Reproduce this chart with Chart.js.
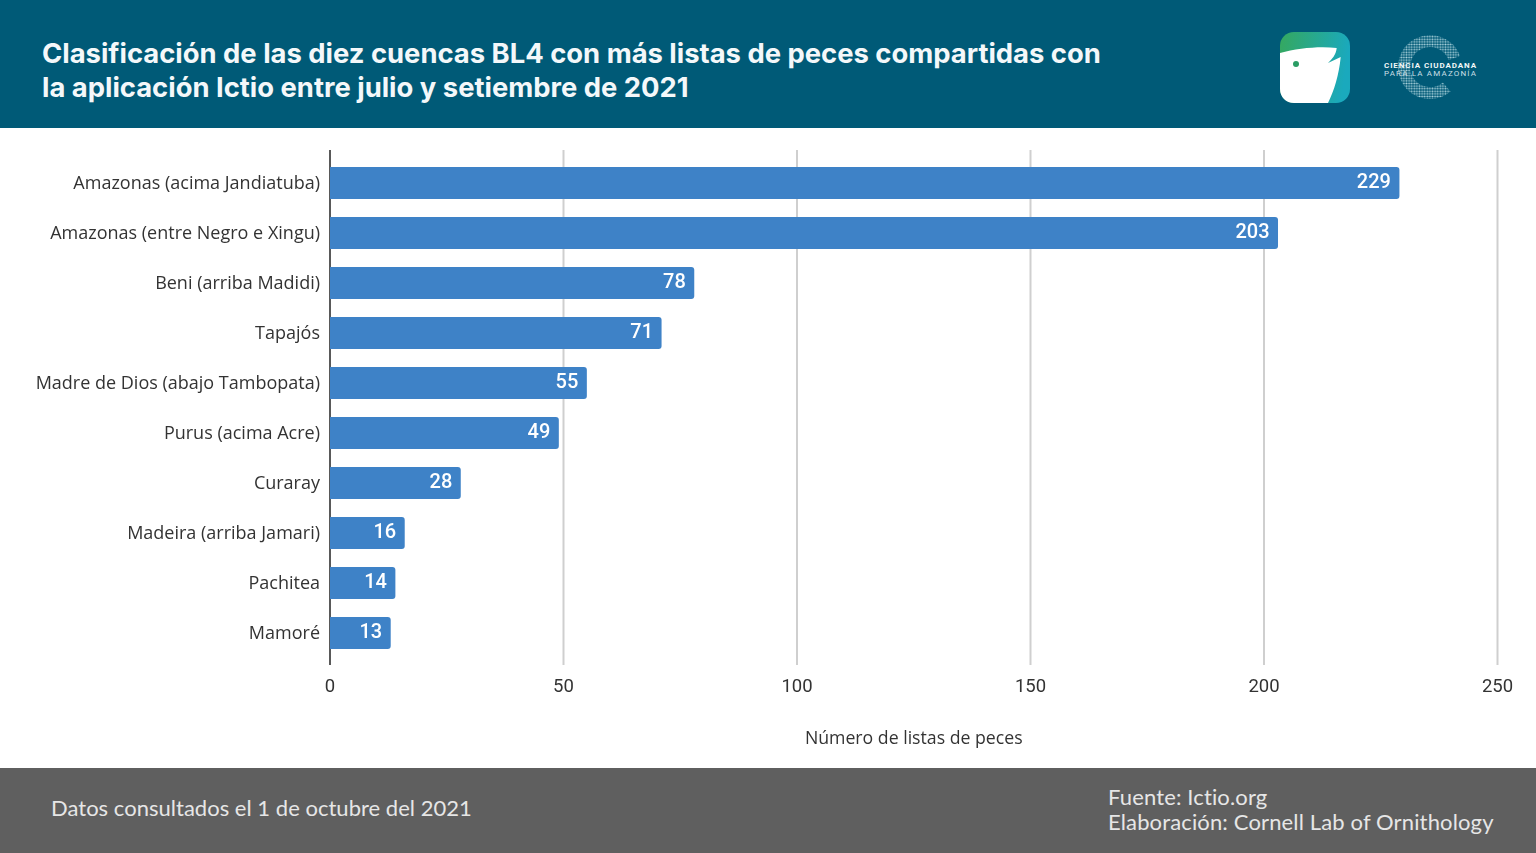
<!DOCTYPE html>
<html lang="es">
<head>
<meta charset="utf-8">
<title>Ictio BL4</title>
<script src="https://cdn.jsdelivr.net/npm/chart.js@4"></script>
<style>
  html, body { margin: 0; padding: 0; background: #fff; }
  body { width: 1536px; height: 853px; position: relative; overflow: hidden; }
  #cabecera { position: absolute; left: 0; top: 0; width: 1536px; height: 128px; background: #005a77; }
  #titulo { position: absolute; left: 42px; top: 36px; margin: 0; color: #f4f8fa; font: 700 27.4px/34px Inter, sans-serif; white-space: nowrap; }
  #logos { position: absolute; left: 1270px; top: 25px; }
  #contenedor { position: absolute; left: 0; top: 128px; width: 1536px; height: 640px; }
  #pie { position: absolute; left: 0; top: 768px; width: 1536px; height: 85px; background: #5f5f5f; color: #e6e6e6; font: 400 22px/25px Lato, sans-serif; }
  #consulta { position: absolute; left: 51px; top: 27px; letter-spacing: 0.02px; }
  #fuente { position: absolute; left: 1108px; top: 16px; white-space: nowrap; letter-spacing: 0.14px; }
</style>
</head>
<body>
<div id="cabecera">
  <h1 id="titulo">Clasificación de las diez cuencas BL4 con más listas de peces compartidas con<br>la aplicación Ictio entre julio y setiembre de 2021</h1>
  <svg id="logos" width="220" height="85" viewBox="0 0 220 85">
    <defs>
      <linearGradient id="gradLogo" x1="0" x2="1" y1="0" y2="0.15">
        <stop offset="0" stop-color="#35a85f"/><stop offset="1" stop-color="#1aa9bd"/>
      </linearGradient>
      <pattern id="puntos" width="2.6" height="2.6" patternUnits="userSpaceOnUse">
        <circle cx="1.3" cy="1.3" r="0.95" fill="#a8d0da"/>
      </pattern>
    </defs>
    <rect x="10" y="7" width="70" height="71" rx="14" fill="url(#gradLogo)"/>
    <path d="M10 28 C28 23 50 21 66.7 23 C66 30 62 34 58 38 L70.7 32 C69 50 64 66 58 78 L24 78 C16 78 10 72 10 64 Z" fill="#fff"/>
    <circle cx="26" cy="39" r="3" fill="#2a9d64"/>
    <path d="M184.4 33 A26 26 0 1 0 176.7 62" fill="none" stroke="url(#puntos)" stroke-width="12"/>
    <text x="160" y="43" text-anchor="middle" fill="#f2f7f8" font-family="Roboto, sans-serif" font-weight="700" font-size="8" textLength="92">CIENCIA CIUDADANA</text>
    <text x="160" y="51" text-anchor="middle" fill="#c9dfe5" font-family="Roboto, sans-serif" font-size="8" textLength="92">PARA LA AMAZONÍA</text>
  </svg>
</div>
<div id="contenedor"><canvas id="grafico"></canvas></div>
<div id="pie">
  <div id="consulta">Datos consultados el 1 de octubre del 2021</div>
  <div id="fuente">Fuente: Ictio.org<br>Elaboración: Cornell Lab of Ornithology</div>
</div>
<script>
const cuencas = [
  'Amazonas (acima Jandiatuba)',
  'Amazonas (entre Negro e Xingu)',
  'Beni (arriba Madidi)',
  'Tapajós',
  'Madre de Dios (abajo Tambopata)',
  'Purus (acima Acre)',
  'Curaray',
  'Madeira (arriba Jamari)',
  'Pachitea',
  'Mamoré'
];
const listas = [229, 203, 78, 71, 55, 49, 28, 16, 14, 13];

// las lineas pasan 8px por arriba y por abajo del area de barras
const lineasEje = {
  id: 'lineasEje',
  beforeDatasetsDraw(chart) {
    const { ctx, chartArea, scales } = chart;
    ctx.save();
    scales.x.ticks.forEach(t => {
      const x = scales.x.getPixelForValue(t.value);
      ctx.beginPath();
      ctx.moveTo(x, chartArea.top - 8);
      ctx.lineTo(x, chartArea.bottom + 7);
      ctx.lineWidth = t.value === 0 ? 1.5 : 2;
      ctx.strokeStyle = t.value === 0 ? '#222222' : '#cfcfcf';
      ctx.stroke();
    });
    ctx.restore();
  }
};

// etiquetas blancas dentro de cada barra
const etiquetas = {
  id: 'etiquetas',
  afterDatasetsDraw(chart) {
    const { ctx } = chart;
    ctx.save();
    ctx.fillStyle = '#ffffff';
    ctx.font = '500 20px Roboto, sans-serif';
    ctx.textAlign = 'right';
    ctx.textBaseline = 'middle';
    chart.getDatasetMeta(0).data.forEach((barra, i) => {
      ctx.fillText(listas[i], barra.x - 8.5, barra.y - 0.5);
    });
    ctx.restore();
  }
};

new Chart(document.getElementById('grafico').getContext('2d'), {
  type: 'bar',
  data: {
    labels: cuencas,
    datasets: [{
      data: listas,
      backgroundColor: '#3e82c7',
      borderRadius: { topRight: 3, bottomRight: 3 },
      borderSkipped: false,
      categoryPercentage: 0.64,
      barPercentage: 1
    }]
  },
  plugins: [lineasEje, etiquetas],
  options: {
    indexAxis: 'y',
    responsive: true,
    maintainAspectRatio: false,
    animation: false,
    layout: { padding: { top: 30, right: 38.5, bottom: 14 } },
    plugins: { legend: { display: false }, tooltip: { enabled: false } },
    scales: {
      x: {
        min: 0,
        max: 250,
        afterFit(scale) { scale.height = 96; },
        ticks: { stepSize: 50, padding: 10, color: '#333333', font: { family: 'Roboto, sans-serif', size: 18.5 } },
        grid: { display: false },
        border: { display: false },
        title: {
          display: true,
          text: 'Número de listas de peces',
          color: '#333333',
          padding: { top: 13 },
          font: { family: '"Open Sans", sans-serif', size: 17.7 }
        }
      },
      y: {
        afterFit(scale) { scale.width = 330; },
        ticks: { padding: 2, labelOffset: 0.5, color: '#333333', font: { family: '"Open Sans", sans-serif', size: 18 } },
        grid: { display: false },
        border: { display: false }
      }
    }
  }
});
</script>
</body>
</html>
